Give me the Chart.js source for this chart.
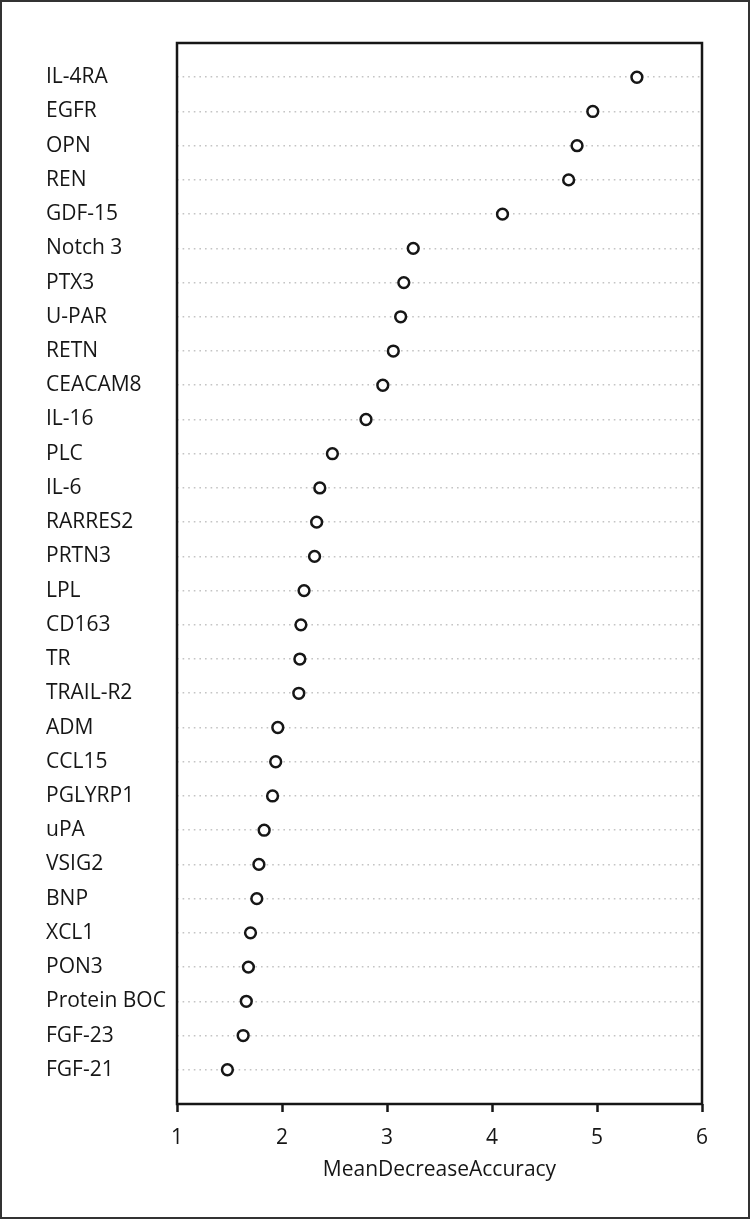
<!DOCTYPE html>
<html>
<head>
<meta charset="utf-8">
<title>MeanDecreaseAccuracy</title>
<script src="https://cdn.jsdelivr.net/npm/chart.js@4/dist/chart.umd.min.js"></script>
<style>
    html, body { margin: 0; padding: 0; background: #fff; }
    #frame {
        width: 750px;
        height: 1219px;
        box-sizing: border-box;
        border: 2px solid #333;
        position: relative;
    }
    #frame canvas { display: block; }
</style>
</head>
<body>
<div id="frame">
    <canvas id="importanceChart" width="746" height="1215"></canvas>
</div>
<script>
// variables, top to bottom as in the plot
const markers = [
    'IL-4RA', 'EGFR', 'OPN', 'REN', 'GDF-15', 'Notch 3', 'PTX3', 'U-PAR',
    'RETN', 'CEACAM8', 'IL-16', 'PLC', 'IL-6', 'RARRES2', 'PRTN3', 'LPL',
    'CD163', 'TR', 'TRAIL-R2', 'ADM', 'CCL15', 'PGLYRP1', 'uPA', 'VSIG2',
    'BNP', 'XCL1', 'PON3', 'Protein BOC', 'FGF-23', 'FGF-21'
];

// MeanDecreaseAccuracy
const meanDecreaseAccuracy = [
    5.38, 4.96, 4.81, 4.73, 4.10, 3.25, 3.16, 3.13,
    3.06, 2.96, 2.80, 2.48, 2.36, 2.33, 2.31, 2.21,
    2.18, 2.17, 2.16, 1.96, 1.94, 1.91, 1.83, 1.78,
    1.76, 1.70, 1.68, 1.66, 1.63, 1.48
];

const xTicks = [1, 2, 3, 4, 5, 6];
const xTitle = 'MeanDecreaseAccuracy';

const FONT = '"Open Sans", "DejaVu Sans", sans-serif';
const INK = '#161616';

// plot box (the dotchart frame)
const boxPlugin = {
    id: 'box',
    afterDraw(chart) {
        const { ctx, chartArea: a } = chart;
        ctx.save();
        ctx.strokeStyle = INK;
        ctx.lineWidth = 2.5;
        ctx.strokeRect(a.left, a.top, a.right - a.left, a.bottom - a.top);
        ctx.restore();
    }
};

function renderChart() {
    const ctx = document.getElementById('importanceChart');

    const points = meanDecreaseAccuracy.map((v, i) => ({ x: v, y: i + 1 }));

    new Chart(ctx, {
        type: 'scatter',
        data: {
            datasets: [{
                data: points,
                showLine: false,
                pointStyle: 'circle',
                pointRadius: 5.4,
                pointBorderWidth: 2.5,
                pointBorderColor: INK,
                pointBackgroundColor: '#ffffff'
            }]
        },
        options: {
            responsive: false,
            animation: false,
            events: [],
            layout: { padding: { top: 41, right: 46, left: 44, bottom: 0 } },
            plugins: {
                legend: { display: false },
                tooltip: { enabled: false }
            },
            scales: {
                x: {
                    type: 'linear',
                    min: xTicks[0],
                    max: xTicks[xTicks.length - 1],
                    afterBuildTicks: (scale) => {
                        scale.ticks = xTicks.map(v => ({ value: v }));
                    },
                    afterFit: (scale) => { scale.height = 113; },
                    grid: {
                        drawOnChartArea: false,
                        drawTicks: true,
                        tickLength: 8,
                        tickWidth: 2.5,
                        tickColor: INK,
                        color: INK
                    },
                    border: { display: false },
                    ticks: {
                        padding: 13,
                        color: INK,
                        font: { family: FONT, size: 21 }
                    },
                    title: {
                        display: true,
                        text: xTitle,
                        color: INK,
                        font: { family: FONT, size: 21 },
                        padding: { top: 0, bottom: 34 }
                    }
                },
                y: {
                    type: 'linear',
                    reverse: true,
                    min: 0,
                    max: markers.length + 1,
                    afterBuildTicks: (scale) => {
                        scale.ticks = markers.map((m, i) => ({ value: i + 1 }));
                    },
                    afterFit: (scale) => { scale.width = 131; },
                    grid: {
                        drawTicks: false,
                        lineWidth: 1.6,
                        color: '#c4c4c4'
                    },
                    border: { display: false, dash: [1.6, 4] },
                    ticks: {
                        autoSkip: false,
                        crossAlign: 'far',
                        padding: 0,
                        color: INK,
                        font: { family: FONT, size: 21 },
                        callback: (v) => markers[v - 1] || ''
                    }
                }
            }
        },
        plugins: [boxPlugin]
    });
}

renderChart();
</script>
</body>
</html>
